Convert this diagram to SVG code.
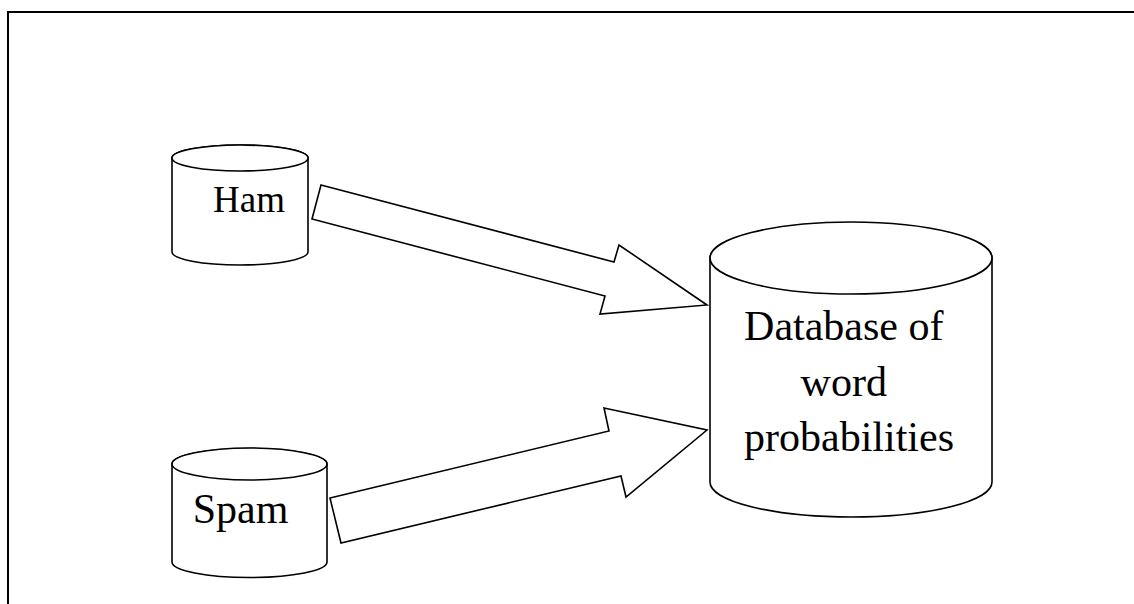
<svg xmlns="http://www.w3.org/2000/svg" width="1134" height="604" viewBox="0 0 1134 604">
  <style>
    .shape { fill: #ffffff; stroke: #000000; stroke-width: 1.6; stroke-linejoin: miter; }
    .frame { fill: none; stroke: #000000; stroke-width: 2; }
    .label { font-family: "Liberation Serif", "Times New Roman", serif; fill: #000000; text-anchor: middle; }
  </style>
  <rect width="1134" height="604" fill="#ffffff"/>

  <!-- page frame (open to the right and bottom) -->
  <path class="frame" d="M8,604 V12 H1134"/>

  <!-- connectors: block arrows into the database -->
  <g id="connectors">
    <polygon id="arrow-ham" class="shape" points="321,185 614,262 619,245 707,305 600,314 605,296 312,219"/>
    <polygon id="arrow-spam" class="shape" points="330,498 609,431 604,408 707,430 626,497 621,476 341,543"/>
  </g>

  <g id="ham">
    <path class="shape" d="M172,158 V252 A68,13 0 0 0 308,252 V158 A68,13 0 0 0 172,158 Z"/>
    <ellipse class="shape" cx="240" cy="158" rx="68" ry="13"/>
    <text class="label" x="249" y="212" font-size="37">Ham</text>
  </g>

  <g id="spam">
    <path class="shape" d="M172,464 V562 A77.5,15.5 0 0 0 327,562 V464 A77.5,15.5 0 0 0 172,464 Z"/>
    <ellipse class="shape" cx="249.5" cy="464" rx="77.5" ry="16"/>
    <text class="label" x="240.5" y="523" font-size="42">Spam</text>
  </g>

  <g id="database">
    <path class="shape" d="M710,258 V482 A141,35 0 0 0 992,482 V258 A141,35 0 0 0 710,258 Z"/>
    <ellipse class="shape" cx="851" cy="258" rx="141" ry="36"/>
    <text class="label" font-size="42">
      <tspan x="849" y="340">Database of</tspan>
      <tspan x="849" y="396">word</tspan>
      <tspan x="849" y="451">probabilities</tspan>
    </text>
  </g>
</svg>
